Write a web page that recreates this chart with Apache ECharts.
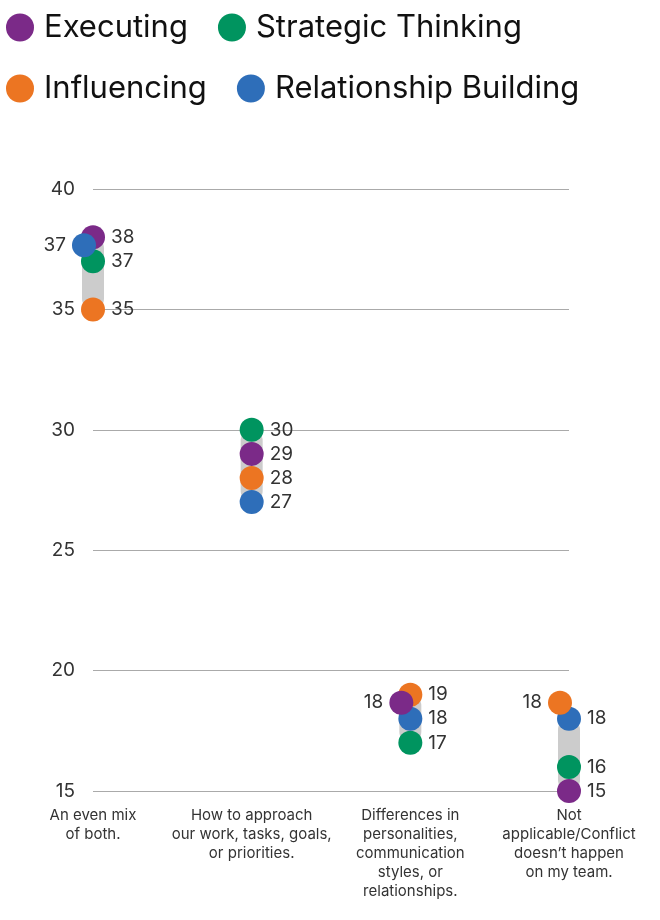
<!DOCTYPE html>
<html>
<head>
<meta charset="utf-8">
<script src="https://cdn.jsdelivr.net/npm/echarts@6/dist/echarts.min.js"></script>
<style>
  html, body { margin: 0; padding: 0; background: #fff; }
  #chart { width: 660px; height: 920px; }
</style>
</head>
<body>
<div id="chart"></div>
<script>
// categories (x axis)
var categories = [
  'An even mix\nof both.',
  'How to approach\nour work, tasks, goals,\nor priorities.',
  'Differences in\npersonalities,\ncommunication\nstyles, or\nrelationships.',
  'Not\napplicable/Conflict\ndoesn\u2019t happen\non my team.'
]
var seriesNames = ['Executing', 'Strategic Thinking', 'Influencing', 'Relationship Building']
var seriesColors = ['#7b2a88', '#00945f', '#ec7522', '#2e6eb9']

// values per theme
var executing = [38, 29, 18, 15]
var strategic = [37, 30, 17, 16]
var influencing = [35, 28, 19, 18]
var relationship = [37, 27, 18, 18]
var values = [executing, strategic, influencing, relationship]

// range bar per category
var rangeLow = [35, 27, 17, 15]
var rangeHigh = [38, 30, 19, 18]

// dots nudged aside to avoid overlap: [series index, category index]
var nudged = [[3, 0], [0, 2], [2, 3]]

var yTicks = [15, 20, 25, 30, 35, 40]

var font = 'Inter, "Noto Sans", sans-serif'
var mychart = echarts.init(document.getElementById('chart'))

function isNudged (s, c) {
  return nudged.some(function (n) { return n[0] === s && n[1] === c })
}

var series = []
// grey range bars
series.push({
  type: 'custom',
  z: 1,
  silent: true,
  data: categories.map(function (c, i) { return [i, rangeLow[i], rangeHigh[i]] }),
  renderItem: function (params, api) {
    var lo = api.coord([api.value(0), api.value(1)])
    var hi = api.coord([api.value(0), api.value(2)])
    var w = 22
    return {
      type: 'rect',
      shape: { x: lo[0] - w / 2, y: hi[1], width: w, height: lo[1] - hi[1], r: w / 2 },
      style: { fill: '#cccccc' }
    }
  }
})

var labelBase = {
  show: true,
  fontSize: 19,
  color: '#333',
  fontFamily: font,
  distance: 6
}

// main dots
values.forEach(function (arr, s) {
  series.push({
    name: seriesNames[s],
    type: 'scatter',
    z: 2,
    symbol: 'circle',
    symbolSize: 24,
    itemStyle: { color: seriesColors[s], opacity: 1 },
    label: Object.assign({ position: 'right', formatter: '{@[1]}' }, labelBase),
    data: arr.map(function (v, c) { return isNudged(s, c) ? [c, '-'] : [c, v] })
  })
})

// nudged dots drawn on top, shifted left and up
values.forEach(function (arr, s) {
  var d = []
  arr.forEach(function (v, c) { if (isNudged(s, c)) d.push([c, v]) })
  if (!d.length) return
  series.push({
    name: seriesNames[s],
    type: 'scatter',
    z: 3,
    symbol: 'circle',
    symbolSize: 24,
    symbolOffset: [-9, -16],
    itemStyle: { color: seriesColors[s], opacity: 1 },
    label: Object.assign({ position: 'left', formatter: '{@[1]}' }, labelBase),
    data: d
  })
})

var option = {
  animation: false,
  legend: {
    data: seriesNames.map(function (n, i) { return { name: n, itemStyle: { color: seriesColors[i] } } }),
    left: 1,
    top: 7,
    width: 620,
    icon: 'circle',
    itemWidth: 28,
    itemHeight: 28,
    itemGap: 30,
    textStyle: { fontSize: 31, color: '#111', fontFamily: font, padding: [0, 0, 0, 5] }
  },
  grid: { left: 93, right: 91, top: 189, bottom: 129 },
  xAxis: {
    type: 'category',
    boundaryGap: false,
    data: categories,
    axisLine: { show: false },
    axisTick: { show: false },
    splitLine: { show: false },
    axisLabel: {
      interval: 0,
      margin: 15,
      fontSize: 15,
      lineHeight: 19,
      color: '#333',
      fontFamily: font,
      align: 'center',
      verticalAlign: 'top'
    }
  },
  yAxis: {
    type: 'value',
    min: yTicks[0],
    max: yTicks[yTicks.length - 1],
    interval: 5,
    axisLine: { show: false },
    axisTick: { show: false },
    axisLabel: { fontSize: 19, color: '#333', fontFamily: font, margin: 18 },
    splitLine: { lineStyle: { color: '#aaaaaa', width: 1 } }
  },
  series: series
}
mychart.setOption(option)
</script>
</body>
</html>
